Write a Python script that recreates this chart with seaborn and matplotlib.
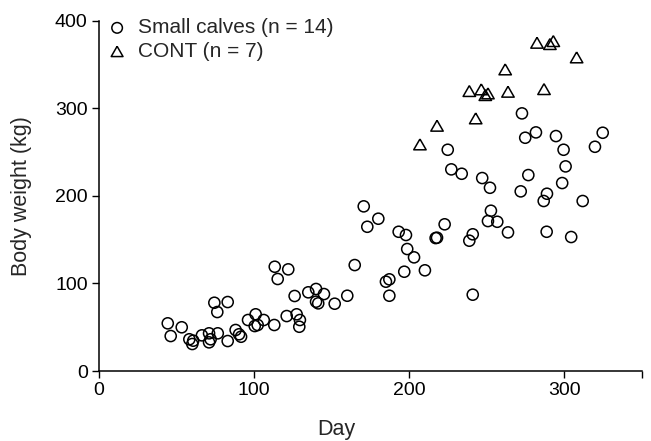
import numpy as np
import pandas as pd
import matplotlib
matplotlib.use("Agg")
import matplotlib.pyplot as plt
import seaborn as sns

# ---- data ----
small_day = [44.6, 46.5, 53.6, 58.5, 60.4, 61.0, 66.6, 71.2, 71.2, 72.2, 76.8, 74.6, 76.5, 83.2,
             83.2, 88.3, 90.5, 91.8, 96.3, 101.2, 100.6, 102.5, 106.4, 113.2, 115.4, 113.5, 121.2,
             122.2, 126.3, 135.1, 140.1, 145.2, 140.1, 141.5, 152.1, 160.2, 165.0, 170.8, 180.2,
             173.1, 185.1, 187.3, 187.3, 193.3, 198.0, 198.8, 203.2, 196.9, 210.2, 217.1, 127.6,
             129.7, 129.3, 272.7, 274.8, 281.7, 294.6, 299.5, 324.7, 319.7, 224.9, 300.8, 227.2,
             233.9, 247.1, 252.1, 276.8, 271.9, 298.6, 288.8, 286.7, 311.8, 252.7, 250.8, 256.8,
             263.7, 288.6, 304.4, 222.9, 218.0, 241.0, 238.8, 241.0]
small_bw = [54.4, 39.9, 49.9, 36.2, 30.8, 34.6, 40.7, 43.0, 32.7, 36.2, 43.0, 77.9, 67.3, 78.7,
            34.2, 46.8, 41.9, 39.1, 58.2, 64.7, 51.3, 52.5, 58.2, 52.5, 105.0, 119.0, 62.7,
            116.0, 85.6, 89.8, 93.6, 87.8, 79.1, 77.2, 76.8, 85.9, 120.9, 187.9, 173.8,
            164.6, 101.9, 104.6, 85.9, 158.9, 155.2, 139.2, 129.7, 113.3, 114.9, 151.7, 64.7,
            58.2, 50.5, 294.0, 266.2, 272.3, 268.1, 252.5, 271.9, 255.9, 252.5, 233.5, 230.1,
            225.1, 220.2, 209.1, 223.6, 205.0, 214.5, 202.3, 194.0, 194.0, 182.9, 171.1, 170.3,
            158.2, 158.9, 152.9, 167.4, 152.1, 156.0, 148.7, 87.1]

cont_day = [282.4, 290.7, 292.9, 307.9, 261.9, 238.8, 246.5, 249.1, 250.8, 263.7, 286.9,
            242.9, 218.0, 207.0]
cont_bw = [374.6, 373.1, 376.5, 357.9, 344.2, 319.5, 321.4, 314.9, 316.8, 318.7, 321.7,
           288.3, 279.9, 258.6]

group_labels = ["Small calves (n = 14)", "CONT (n = 7)"]
x_ticks = [0, 100, 200, 300]
y_ticks = [0, 100, 200, 300, 400]

df_small = pd.DataFrame({"Day": small_day, "BW": small_bw})
df_cont = pd.DataFrame({"Day": cont_day, "BW": cont_bw})

sns.set_style("ticks")
plt.rcParams["font.family"] = ["Liberation Sans", "DejaVu Sans"]

fig = plt.figure(figsize=(6.51, 4.41), dpi=100)
ax = fig.add_axes([98.5 / 651, 1 - 371 / 441, (642 - 98.5) / 651, (371 - 20.5) / 441])

# wide (equilateral) upward triangle
tri = [(0.0, 1.0), (-1.15, -1.0), (1.15, -1.0), (0.0, 1.0)]

sns.scatterplot(data=df_small, x="Day", y="BW", marker="o", s=64, facecolor="none",
                edgecolor="black", linewidth=1.1, ax=ax, label=group_labels[0])
sns.scatterplot(data=df_cont, x="Day", y="BW", marker=tri, s=80, facecolor="none",
                edgecolor="black", linewidth=1.1, ax=ax, label=group_labels[1])

ax.set_xlim(0, 350)
ax.set_ylim(0, 400)
ax.set_xticks(x_ticks + [350])
ax.set_xticklabels([str(t) for t in x_ticks] + [""])
ax.set_yticks(y_ticks)
ax.set_yticklabels([str(t) for t in y_ticks])

for s in ["top", "right"]:
    ax.spines[s].set_visible(False)
for s in ["left", "bottom"]:
    ax.spines[s].set_linewidth(1.1)
    ax.spines[s].set_color("black")
ax.tick_params(direction="out", length=4.8, width=1.0, labelsize=14, colors="black", pad=3)

ax.set_xlabel("Day", fontsize=15.5)
ax.set_ylabel("Body weight (kg)", fontsize=15.5)
ax.xaxis.set_label_coords(0.437, -0.138)
ax.yaxis.set_label_coords(-0.123, 0.5)

leg = ax.legend(loc="upper left", bbox_to_anchor=(-0.006, 1.03), frameon=False, fontsize=15,
                markerscale=0.95, handletextpad=0.35, labelspacing=0.22, borderaxespad=0.0,
                handlelength=1.3)
for h in leg.legend_handles:
    h.set_facecolor("none")
    h.set_edgecolor("black")

fig.savefig("out.png", dpi=100, facecolor="white")
